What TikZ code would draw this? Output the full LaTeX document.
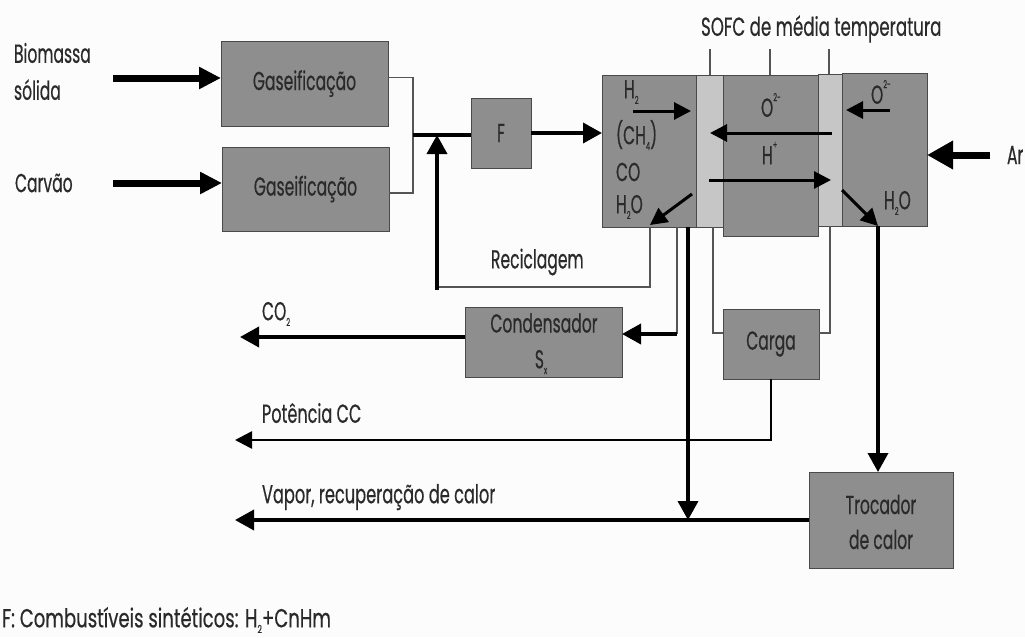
\documentclass[tikz,border=0pt]{standalone}
\usepackage{fontspec}
\usetikzlibrary{arrows.meta,calc}
\setmainfont[FakeStretch=0.60,FakeBold=0.4]{Poppins}
\definecolor{boxg}{HTML}{8E8E8E}
\definecolor{bandg}{HTML}{C6C6C6}
\definecolor{inkd}{HTML}{2A2A2A}
\definecolor{paper}{HTML}{FCFCFC}
\newcommand\sbs[1]{\raisebox{-0.22em}{\fontsize{11}{11}\selectfont #1}}
\newcommand\sps[1]{\raisebox{0.6em}{\fontsize{11}{11}\selectfont #1}}
\newcommand\wdr[2]{\scalebox{#1}[1]{#2}}
\tikzset{
  x=1pt,y=-1pt,
  every node/.style={font=\fontsize{26}{27}\selectfont,text=inkd,inner sep=0pt,outer sep=0pt},
  gbox/.style={draw=inkd!85,line width=1pt,fill=boxg,align=center},
  lband/.style={draw=inkd!85,line width=1pt,fill=bandg},
  lbl/.style={align=left,anchor=west},
  thinl/.style={draw=inkd!80,line width=1.2pt},
  medl/.style={draw=black,line width=3.6pt,-{Triangle[length=19pt,width=20pt]}},
  medn/.style={draw=black,line width=3.6pt},
  potl/.style={draw=black,line width=2.6pt,-{Triangle[length=17pt,width=17pt]}},
  bigl/.style={draw=black,line width=7pt,-{Triangle[length=22pt,width=21pt]}},
  arl/.style={draw=black,line width=7pt,-{Triangle[length=26pt,width=27pt]}},
  smal/.style={draw=black,line width=3pt,-{Triangle[length=17pt,width=17pt]}},
}
\begin{document}
\begin{tikzpicture}
\useasboundingbox[fill=paper] (0,0) rectangle (1025,637);
% boxes
\node[gbox,minimum width=167pt,minimum height=85pt] (gas1) at (304.5,83.5) {Gaseificação};
\node[gbox,minimum width=167pt,minimum height=84pt] (gas2) at (305.5,189) {Gaseificação};
\node[gbox,minimum width=60pt,minimum height=70pt] (f) at (501,133) {F};
\node[gbox,minimum width=95pt,minimum height=161pt] (mid) at (770.5,155.5) {};
\node[gbox,minimum width=94pt,minimum height=152pt] (an) at (649,151) {};
\node[lband,minimum width=27pt,minimum height=152pt] (b1) at (710,151) {};
\node[lband,minimum width=24pt,minimum height=152pt] (b2) at (830,150) {};
\node[gbox,minimum width=85pt,minimum height=153pt] (ca) at (884.5,149.5) {};
\node[gbox,minimum width=157pt,minimum height=70pt] (cond) at (543.5,342) {};
\node[gbox,minimum width=96pt,minimum height=70pt] (carga) at (771,344) {Carga};
\node[gbox,minimum width=144pt,minimum height=96pt] (troc) at (881,520) {};
% box texts
\node[align=center] (troct) at (881,522) {Trocador\\[8pt]de calor};
\node (condt) at (544,323) {Condensador};
\node (condx) at (541,362) {S\sbs{x}};
\node[lbl] (h2) at (624,92) {H\sbs{2}};
\node[lbl] (ch4) at (616,135) {(CH\sbs{4})};
\node[lbl] (co) at (616,172) {CO};
\node[lbl] (h2ob) at (616,207) {H\sbs{2}O};
\node[lbl] (o2m) at (761,105) {O\sps{2-}};
\node[lbl] (hp) at (762,153) {H\sps{+}};
\node[lbl] (o2r) at (871,92) {O\sps{2-}};
\node[lbl] (h2or) at (884,203) {H\sbs{2}O};
% labels
\node[lbl] (biomassa) at (14,71.5) {Biomassa\\[10pt]sólida};
\node[lbl] (carvao) at (15,183) {Carvão};
\node[lbl] (sofc) at (701,29) {\wdr{1.07}{SOFC de média temperatura}};
\node[lbl] (ar) at (1007,155) {Ar};
\node[lbl] (recic) at (491,262) {Reciclagem};
\node[lbl] (co2) at (262,314) {CO\sbs{2}};
\node[lbl] (pot) at (262,413) {\wdr{1.03}{Potência CC}};
\node[lbl] (vap) at (262,497) {\wdr{1.04}{Vapor, recuperação de calor}};
\node[lbl] (leg) at (2,620) {\wdr{1.16}{F: Combustíveis sintéticos: H\sbs{2}+CnHm}};
% free ends
\coordinate (jn) at (413,135);
\coordinate (inb) at (113,78);
\coordinate (inc) at (113,183);
\coordinate (inar) at (990,155);
\coordinate (outco2) at (240,337);
\coordinate (outpot) at (235,440);
\coordinate (outvap) at (235,520);
\coordinate (t1) at (710,49);
\coordinate (t2) at (770,49);
\coordinate (t3) at (829,49);
\coordinate (recb) at (437,290);
% inputs
\draw[bigl] (inb) -- (gas1.west |- inb);
\draw[bigl] (inc) -- (gas2.west |- inc);
\draw[arl] (inar) -- (ca.east |- inar);
% merge
\draw[thinl] ([yshift=6pt]gas1.east) -| (jn);
\draw[thinl] ([yshift=-4pt]gas2.east) -| (jn);
\draw[medn] (jn) -- (f.west |- jn);
\draw[medl] (f.east) -- (an.west |- f.east);
% ticks
\draw[thinl] (t1) -- (b1.north -| t1);
\draw[thinl] (t2) -- (mid.north -| t2);
\draw[thinl] (t3) -- (b2.north -| t3);
% inner arrows
\coordinate (h2a) at (633,111); \coordinate (h2b) at (691,111);
\coordinate (o2a) at (890,110); \coordinate (o2b) at (846,110);
\coordinate (oa) at (832,133); \coordinate (ob) at (710,133);
\coordinate (ha) at (709,180); \coordinate (hb) at (831,180);
\coordinate (wa) at (692,194); \coordinate (wb) at (650,225);
\coordinate (ra) at (842,190); \coordinate (rb) at (878,226);
\draw[smal] (h2a) -- (h2b);
\draw[smal] (o2a) -- (o2b);
\draw[smal] (oa) -- (ob);
\draw[smal] (ha) -- (hb);
\draw[smal] (wa) -- (wb);
\draw[smal] (ra) -- (rb);
% recycling
\draw[thinl] (wb |- an.south) |- (recb |- 0,287);
\draw[medl] (recb) -- (jn -| recb);
% to condenser
\coordinate (cin) at (677,334);
\draw[thinl] (an.south -| cin) -- (cin);
\draw[medl] (cin) -- (cond.east |- cin);
\draw[medl] (cond.west |- outco2) -- (outco2);
% to steam line
\coordinate (vj) at (688,520);
\draw[medl] (an.south -| vj) -- (vj);
% load
\draw[thinl] (b1.south -| 713,0) |- ([yshift=11pt]carga.west);
\draw[thinl] (b2.south) |- ([yshift=11pt]carga.east);
\draw[potl] (carga.south) |- (outpot);
% heat exchanger
\draw[medl] (ca.south -| rb) -- (troc.north -| rb);
\draw[medl] (troc.west) -- (outvap);
\end{tikzpicture}
\end{document}
